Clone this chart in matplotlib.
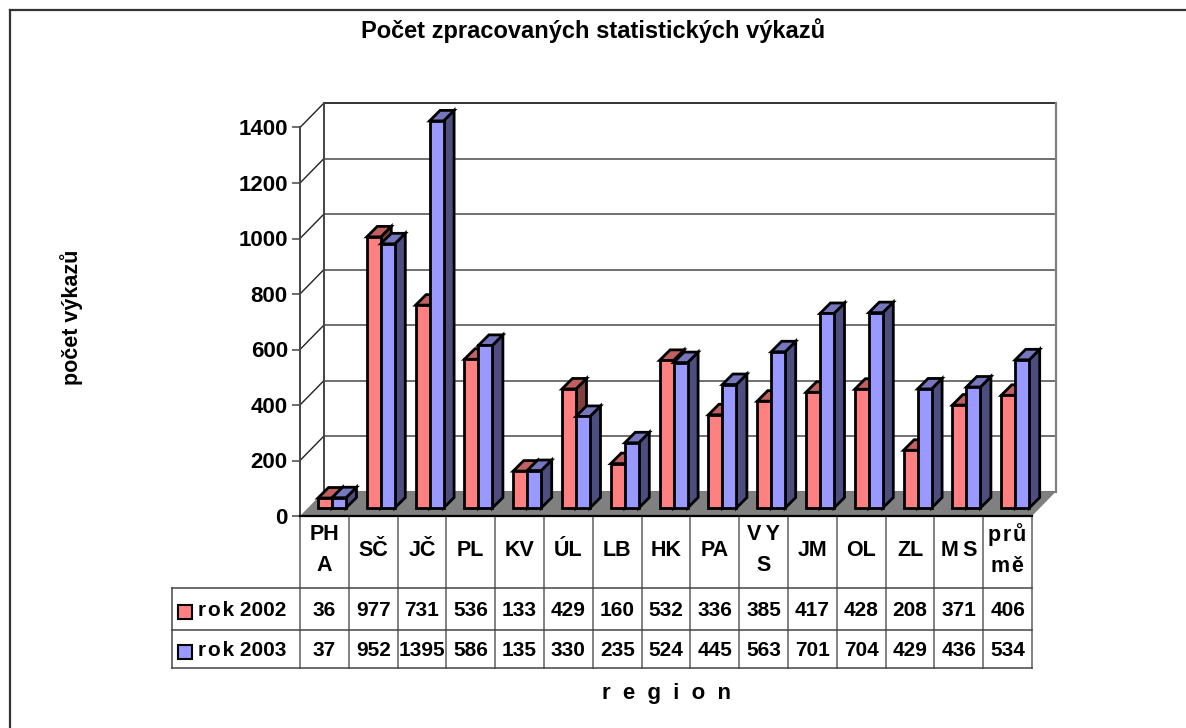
import matplotlib
matplotlib.use("Agg")
import matplotlib.pyplot as plt
from matplotlib.patches import Polygon, Rectangle

plt.rcParams['font.family'] = ['Liberation Sans', 'DejaVu Sans']
plt.rcParams['font.weight'] = 'bold'

regions = ['PH\nA', 'SČ', 'JČ', 'PL', 'KV', 'ÚL', 'LB', 'HK', 'PA', 'V\u2009Y\nS', 'JM', 'OL', 'ZL', 'M\u2009S',
           'p\u200ar\u200aů\nm\u200aě']
rok_2002 = [36, 977, 731, 536, 133, 429, 160, 532, 336, 385, 417, 428, 208, 371, 406]
rok_2003 = [37, 952, 1395, 586, 135, 330, 235, 524, 445, 563, 701, 704, 429, 436, 534]
series_names = ['r\u200ao\u200ak 2002', 'r\u200ao\u200ak 2003']
y_ticks = [0, 200, 400, 600, 800, 1000, 1200, 1400]

# colours: front, top, side
RED = ('#FF8080', '#C06060', '#804040')
BLUE = ('#9999FF', '#7777C0', '#4D4D80')

# layout in pixels of the 1186x728 picture
W, H = 1186, 728
LEFT, RIGHT, BASE, TOP = 300, 1032, 516, 127.5
ROW_HEAD, ROW_1, ROW_2 = 588, 630, 668
TABLE_LEFT = 172

fig = plt.figure(figsize=(W / 100, H / 100), dpi=100, facecolor='white')

# overlay in pixels for frame, title and table
px = fig.add_axes([0, 0, 1, 1])
px.set_xlim(0, W)
px.set_ylim(H, 0)
px.axis('off')

ax = fig.add_axes([LEFT / W, (H - BASE) / H, (RIGHT - LEFT) / W, (BASE - TOP) / H])
ax.patch.set_alpha(0)
ax.set_xlim(0, len(regions))
ax.set_ylim(0, 1400)

# pixel sizes in data units
ux = len(regions) / (RIGHT - LEFT)
uy = 1400 / (BASE - TOP)


def quad(points, color, z, lw=2.0, edge='black'):
    ax.add_patch(Polygon(points, closed=True, facecolor=color, edgecolor=edge,
                         linewidth=lw, clip_on=False, zorder=z, joinstyle='miter'))


def bar3d(x0, value, colors, z):
    w = 14 * ux
    bx = x0 + 8 * ux
    by = 8 * uy
    dx = 10.5 * ux
    dy = 10.5 * uy
    # side, top, then front
    quad([(bx + w, by), (bx + w + dx, by + dy), (bx + w + dx, by + dy + value), (bx + w, by + value)], colors[2], z)
    quad([(bx, by + value), (bx + dx, by + dy + value), (bx + w + dx, by + dy + value), (bx + w, by + value)], colors[1], z)
    quad([(bx, by), (bx + w, by), (bx + w, by + value), (bx, by + value)], colors[0], z)


depth_x = 24 * ux
depth_y = 24.5 * uy

# back wall and left wall
for v in y_ticks:
    ax.plot([depth_x, len(regions) + depth_x], [v + depth_y, v + depth_y], color='#333333' if v == 1400 else '#707070',
            lw=1.4, clip_on=False, zorder=1)
    if v > 0:
        ax.plot([0, depth_x], [v, v + depth_y], color='#222222', lw=1.0, clip_on=False, zorder=1)
ax.plot([depth_x, depth_x], [depth_y, 1400 + depth_y], color='#444444', lw=1.4, clip_on=False, zorder=1)
ax.plot([len(regions) + depth_x] * 2, [depth_y, 1400 + depth_y], color='#808080', lw=1.6, clip_on=False, zorder=1)

# floor
n = len(regions)
quad([(0, 0), (depth_x, depth_y), (n + depth_x, depth_y), (n, 0)], '#808080', 2, lw=0)
ax.plot([0, n], [0, 0], color='black', lw=1.6, clip_on=False, zorder=3)

for i in range(n):
    bar3d(i + 10 * ux, rok_2002[i], RED, 4 + i * 2)
    bar3d(i + 24 * ux, rok_2003[i], BLUE, 5 + i * 2)

ax.set_xticks([])
ax.set_yticks(y_ticks)
ax.tick_params(axis='y', length=5.8, width=1.2, color='#555555', pad=3, labelsize=16)
for side in ['top', 'right', 'bottom']:
    ax.spines[side].set_visible(False)
ax.spines['left'].set_color('#444444')
ax.spines['left'].set_linewidth(1.4)

# outer frame, only top and left reach into the picture
px.plot([9.5, W], [10, 10], color='#333333', lw=1.6)
px.plot([9.5, 9.5], [10, H], color='#333333', lw=1.6)

px.text(593, 31, 'Počet zpracovaných statistických výkazů', ha='center', va='center', fontsize=17)
px.text(72, 317, 'počet výkazů', rotation=90, ha='center', va='center', fontsize=15.5)
px.text(666, 694, 'r  e  g  i  o  n', ha='center', va='center', fontsize=16)

# data table
col_w = (RIGHT - LEFT) / n
for i in range(n + 1):
    x = LEFT + i * col_w
    px.plot([x, x], [BASE, ROW_2], color='#777777', lw=1.3)
px.plot([TABLE_LEFT, TABLE_LEFT], [ROW_HEAD, ROW_2], color='#555555', lw=1.2)
for y in [ROW_HEAD, ROW_1, ROW_2]:
    px.plot([TABLE_LEFT, RIGHT], [y, y], color='#444444', lw=1.1)

for i, name in enumerate(regions):
    xc = LEFT + (i + 0.5) * col_w
    px.text(xc, 550, name, ha='center', va='center', fontsize=15.5, linespacing=1.6)
    px.text(xc, 610.5, str(rok_2002[i]), ha='center', va='center', fontsize=15)
    px.text(xc, 650, str(rok_2003[i]), ha='center', va='center', fontsize=15)

for y, name, colors in [(612, series_names[0], RED), (652, series_names[1], BLUE)]:
    px.add_patch(Rectangle((177.5, y - 7), 14, 14, facecolor=colors[0], edgecolor='black', lw=1.5))
    px.text(198, y - 1, name, ha='left', va='center', fontsize=15)

fig.savefig('out.png', dpi=100)
